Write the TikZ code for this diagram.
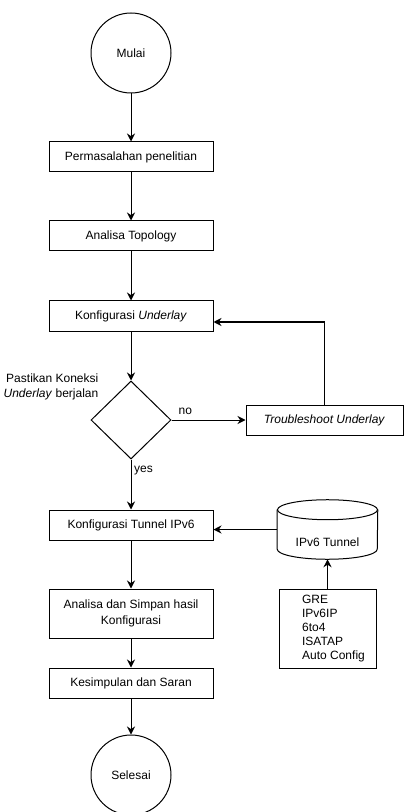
\documentclass[tikz,border=0pt]{standalone}
\usepackage{fontspec}
\setmainfont{Liberation Sans}
\usetikzlibrary{shapes.geometric,arrows.meta}

\begin{document}
\begin{tikzpicture}[x=0.75pt,y=-0.75pt,
        font=\fontsize{9}{11.5}\selectfont,
        garis/.style={line width=0.75pt},
        kotak/.style={draw,garis,minimum width=123pt,minimum height=22.5pt,inner sep=2pt,align=center},
        bulat/.style={draw,garis,circle,minimum size=60pt,inner sep=0pt},
        belah/.style={draw,garis,diamond,minimum width=60pt,minimum height=58.5pt,inner sep=0pt},
        tabung/.style={minimum width=75pt,minimum height=44.25pt,inner sep=0pt},
        panah/.style={garis,-{Stealth[length=6pt,width=6pt]}}]

        \useasboundingbox (0,0) rectangle (403,812);

        % alur utama
        \node[bulat] (mulai) at (131,53) {Mulai};
        \node[kotak] (masalah) at (131,157) {Permasalahan penelitian};
        \node[kotak] (topologi) at (131,236) {Analisa Topology};
        \node[kotak] (underlay) at (131,316) {Konfigurasi \textit{Underlay}};
        \node[belah] (cek) at (131,420) {};
        \node[anchor=east,align=right] (cekteks) at (103,387) {Pastikan Koneksi\\\textit{Underlay} berjalan};
        \node[kotak,minimum width=117.75pt] (trouble) at (324.5,420) {\textit{Troubleshoot Underlay}};
        \node[kotak] (tunnel) at (131,525) {Konfigurasi Tunnel IPv6};
        \node[kotak,minimum height=36.75pt] (analisa) at (131,613.5) {Analisa dan Simpan hasil\\Konfigurasi};
        \node[kotak] (simpulan) at (131,683) {Kesimpulan dan Saran};
        \node[bulat] (selesai) at (131,775) {Selesai};

        % jenis tunnel
        \node[tabung] (silinder) at (327.5,529.5) {\raisebox{-12.5pt}[0pt][0pt]{IPv6 Tunnel}};
        \draw[garis] ([yshift=-7.5pt]silinder.north) ellipse [x radius=50, y radius=10];
        \draw[garis] ([yshift=-7.5pt]silinder.north west) -- ([yshift=7.5pt]silinder.south west)
            arc [start angle=180, end angle=0, x radius=50, y radius=10] -- ([yshift=-7.5pt]silinder.north east);
        \node[draw,garis,minimum width=72.75pt,minimum height=59.25pt,inner sep=0pt,font=\fontsize{9}{10.5}\selectfont] (daftar) at (327.5,628.5)
            {\begin{tabular}{@{\hspace{9pt}}l@{}}GRE\\IPv6IP\\6to4\\ISATAP\\Auto Config\end{tabular}};

        \draw[panah] (mulai) -- (masalah);
        \draw[panah] (masalah) -- (topologi);
        \draw[panah] (topologi) -- (underlay);
        \draw[panah] (underlay) -- (cek);
        \draw[panah] (cek.east) -- node[pos=0.03,anchor=south west] {no} (trouble.west);
        \draw[panah] (trouble.north) |- ([yshift=-4.5pt]underlay.east);
        \draw[panah] (cek.south) -- node[pos=0.03,anchor=north west,inner xsep=2pt] {yes} (tunnel.north);
        \draw[panah] (silinder.west) -- (silinder.west -| tunnel.east);
        \draw[panah] (daftar) -- (silinder);
        \draw[panah] (tunnel) -- (analisa);
        \draw[panah] (analisa) -- (simpulan);
        \draw[panah] (simpulan) -- (selesai);

    \end{tikzpicture}
\end{document}
